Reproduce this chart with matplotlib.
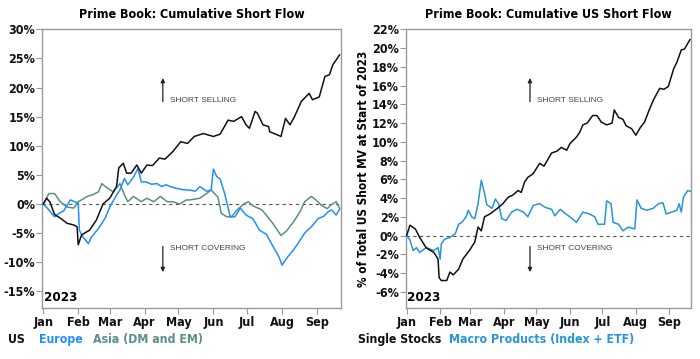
import numpy as np
import pandas as pd
import matplotlib
matplotlib.use("Agg")
import matplotlib.pyplot as plt
import matplotlib.dates as mdates

plt.rcParams["font.family"] = ["DejaVu Sans"]
plt.rcParams["font.stretch"] = "condensed"
plt.rcParams["font.weight"] = "bold"

# ------------------------------------------------------------
# data (day offset from Jan 1 2023, cumulative flow in %)
# ------------------------------------------------------------
us_days = [0, 3, 6, 10, 15, 21, 27, 30, 31, 34, 41, 47, 53, 59, 65, 67, 71, 74, 78, 83, 87, 92, 97, 103, 108,
           115, 122, 128, 134, 142, 151, 157, 164, 169, 176, 180, 183, 188, 190, 195, 200, 201, 205, 211, 215,
           219, 223, 229, 236, 239, 245, 250, 254, 257, 263]
us_vals = [0, 1.0, 0.3, -1.8, -2.4, -3.3, -3.6, -3.9, -7.0, -5.3, -4.5, -2.8, 0.0, 1.0, 3.0, 6.2, 7.0, 5.3, 5.3,
           6.7, 5.3, 6.7, 6.6, 7.9, 7.7, 9.0, 10.7, 10.4, 11.6, 12.1, 11.6, 12.0, 14.4, 14.2, 15.0, 13.6, 13.0,
           15.9, 15.6, 13.6, 13.3, 12.4, 12.1, 11.6, 14.7, 13.6, 15.0, 17.6, 19.0, 17.9, 18.4, 21.9, 22.2, 23.9, 25.6]

eu_days = [0, 4, 10, 14, 18, 24, 29, 31, 32, 35, 40, 43, 49, 55, 59, 64, 68, 72, 75, 80, 84, 87, 91, 96, 101,
           105, 109, 114, 118, 123, 127, 130, 135, 139, 145, 149, 151, 154, 157, 161, 166, 170, 175, 180, 186,
           192, 198, 204, 209, 212, 216, 222, 226, 232, 238, 244, 249, 253, 256, 260, 263]
eu_vals = [0, -0.8, -2.2, -1.6, -1.2, 0.7, 0.3, 0.2, -4.5, -5.6, -6.8, -5.6, -4.2, -2.4, -0.5, 1.2, 2.4, 4.4, 3.3,
           4.6, 6.1, 3.8, 3.8, 3.4, 3.5, 3.0, 3.3, 2.9, 2.7, 2.5, 2.4, 2.4, 2.2, 3.0, 2.2, 2.4, 6.0, 4.7, 4.3, 1.8,
           -2.2, -2.2, -0.7, -1.9, -2.5, -4.5, -5.2, -7.3, -9.0, -10.5, -9.3, -7.9, -6.8, -5.0, -3.9, -2.5, -2.1,
           -1.3, -1.0, -1.9, -0.9]

asia_days = [0, 5, 10, 15, 21, 27, 31, 34, 39, 44, 49, 52, 55, 62, 68, 72, 75, 80, 87, 92, 98, 104, 110, 115,
             121, 127, 130, 139, 145, 149, 152, 155, 158, 163, 167, 172, 178, 182, 186, 194, 198, 204, 211, 216,
             222, 228, 232, 238, 242, 247, 252, 255, 260, 263]
asia_vals = [0, 1.8, 1.8, 0.4, -0.5, -0.7, 0.4, 0.7, 1.3, 1.6, 2.1, 3.5, 3.0, 2.1, 3.5, 1.6, 0.4, 1.3, 0.4, 1.0,
             0.4, 1.3, 0.4, 0.4, 0.0, 0.7, 0.7, 1.0, 1.8, 2.4, 1.8, 1.2, -1.6, -2.2, -2.2, -1.0, 0.0, 0.4, -0.3,
             -1.0, -1.9, -3.4, -5.4, -4.6, -3.1, -1.3, 0.4, 1.3, 0.7, -0.2, -0.8, -0.2, 0.4, -0.7]

stocks_days = [0, 3, 8, 12, 18, 25, 29, 30, 32, 37, 40, 43, 48, 52, 58, 63, 66, 69, 72, 77, 85, 89, 94, 98, 103,
               106, 109, 112, 117, 123, 127, 131, 134, 139, 143, 148, 151, 157, 160, 163, 167, 172, 176, 180, 185,
               190, 192, 196, 200, 203, 208, 212, 216, 220, 224, 228, 234, 238, 242, 247, 250, 254, 257, 262]
stocks_vals = [0, 1.1, 0.7, -0.2, -1.3, -1.8, -2.5, -4.5, -4.8, -4.8, -3.9, -4.2, -3.6, -2.5, -1.6, -0.7, 0.9,
               0.5, 2.0, 2.3, 3.0, 3.4, 4.1, 4.3, 4.8, 4.6, 5.7, 6.2, 6.6, 7.7, 7.4, 8.2, 8.8, 9.0, 9.4, 9.1, 9.8,
               10.5, 11.0, 11.8, 12.0, 12.8, 12.8, 12.1, 11.8, 12.0, 13.4, 12.6, 12.4, 11.7, 11.4, 10.7, 11.5,
               12.1, 13.3, 14.4, 15.7, 15.6, 15.9, 17.8, 18.5, 19.8, 19.9, 20.9]

macro_days = [0, 3, 6, 9, 12, 18, 25, 29, 31, 32, 35, 40, 45, 48, 51, 55, 57, 60, 63, 66, 69, 72, 74, 79, 82, 85,
              88, 92, 97, 102, 108, 112, 117, 123, 128, 134, 137, 142, 146, 151, 157, 163, 169, 174, 177, 183,
              185, 189, 191, 196, 200, 205, 211, 213, 217, 222, 228, 233, 237, 240, 245, 250, 252, 254, 256, 260, 263]
macro_vals = [0, -0.5, -1.6, -1.3, -1.8, -1.3, -1.6, -1.3, -2.5, -0.9, -0.4, -0.2, 0.2, 1.2, 1.4, 2.0, 2.7, 2.0,
              1.8, 3.4, 5.9, 4.5, 3.3, 2.9, 3.9, 3.4, 1.8, 1.6, 2.5, 2.8, 2.5, 2.0, 3.2, 3.4, 3.0, 2.8, 2.1, 2.8,
              2.4, 2.0, 1.4, 2.5, 2.3, 2.0, 1.2, 1.2, 3.7, 3.4, 1.4, 1.2, 0.5, 0.9, 0.7, 3.8, 2.9, 2.7, 2.9, 3.4,
              3.5, 2.3, 2.5, 2.7, 3.4, 2.5, 4.1, 4.8, 4.7]

left_yticks = [-15, -10, -5, 0, 5, 10, 15, 20, 25, 30]
right_yticks = [-6, -4, -2, 0, 2, 4, 6, 8, 10, 12, 14, 16, 18, 20, 22]

start = pd.Timestamp("2023-01-01")


def to_dates(days):
    return start + pd.to_timedelta(np.array(days), unit="D")


BLACK = "#111111"
BLUE_L = "#1f8fff"
TEAL = "#5b8f88"
BLUE_R = "#2596d8"
FRAME = "#999999"

fig = plt.figure(figsize=(7.0, 3.59), dpi=100)
ax1 = fig.add_axes([0.0604, 0.1429, 0.4263, 0.7755])
ax2 = fig.add_axes([0.5796, 0.1429, 0.4071, 0.7755])


def style_axis(ax, yticks, ylim, xend):
    ax.set_ylim(*ylim)
    ax.set_xlim(start - pd.Timedelta(days=0.9), start + pd.Timedelta(days=xend))
    ax.set_yticks(yticks)
    ax.set_yticklabels([f"{t}%" for t in yticks])
    ax.xaxis.set_major_locator(mdates.MonthLocator())
    ax.xaxis.set_major_formatter(mdates.DateFormatter("%b"))
    ax.axhline(0, color="#555555", lw=0.8, ls=(0, (3, 3)), zorder=1)
    for sp in ax.spines.values():
        sp.set_color(FRAME)
        sp.set_linewidth(1.0)
    ax.tick_params(axis="both", colors=FRAME, length=4, width=0.8,
                   labelcolor="#111111", labelsize=9)
    ax.tick_params(axis="y", pad=1)
    ax.tick_params(axis="x", pad=2)
    ax.text(0.005, 0.015, "2023", transform=ax.transAxes, fontsize=9.5,
            fontweight="bold", ha="left", va="bottom")


# --- left chart ---
ax1.plot(to_dates(asia_days), asia_vals, color=TEAL, lw=1.1, zorder=2)
ax1.plot(to_dates(eu_days), eu_vals, color=BLUE_L, lw=1.1, zorder=3)
ax1.plot(to_dates(us_days), us_vals, color=BLACK, lw=1.1, zorder=4)
style_axis(ax1, left_yticks, (-17.8, 30), 264)
ax1.set_title("Prime Book: Cumulative Short Flow", fontsize=9, fontweight="bold", pad=8)

# --- right chart ---
ax2.plot(to_dates(macro_days), macro_vals, color=BLUE_R, lw=1.1, zorder=2)
ax2.plot(to_dates(stocks_days), stocks_vals, color=BLACK, lw=1.1, zorder=3)
style_axis(ax2, right_yticks, (-7.7, 22), 262.7)
ax2.set_title("Prime Book: Cumulative US Short Flow", fontsize=9, fontweight="bold", pad=8)
ax2.set_ylabel("% of Total US Short MV at Start of 2023", fontsize=8.5, fontweight="bold", labelpad=1)

# arrows + labels (axes-fraction placement)
for ax in (ax1, ax2):
    x_arrow = 0.404 if ax is ax1 else 0.436
    ax.annotate("", xy=(x_arrow, 0.835), xytext=(x_arrow, 0.73), xycoords="axes fraction",
                arrowprops=dict(arrowstyle="-|>", color="#222222", lw=0.9, mutation_scale=6))
    ax.annotate("", xy=(x_arrow, 0.118), xytext=(x_arrow, 0.23), xycoords="axes fraction",
                arrowprops=dict(arrowstyle="-|>", color="#222222", lw=0.9, mutation_scale=6))
    ax.text(x_arrow + 0.023, 0.745, "SHORT SELLING", transform=ax.transAxes, fontsize=6,
            family="Liberation Sans", fontstretch="normal", fontweight="normal",
            color="#444444", va="center")
    ax.text(x_arrow + 0.023, 0.214, "SHORT COVERING", transform=ax.transAxes, fontsize=6,
            family="Liberation Sans", fontstretch="normal", fontweight="normal",
            color="#444444", va="center")

# legend rows as coloured text
leg_y = 0.055
fig.text(8 / 700, leg_y, "US", color=BLACK, fontsize=8.8, fontweight="bold", va="center")
fig.text(39 / 700, leg_y, "Europe", color=BLUE_L, fontsize=8.8, fontweight="bold", va="center")
fig.text(93 / 700, leg_y, "Asia (DM and EM)", color=TEAL, fontsize=8.8, fontweight="bold", va="center")
fig.text(358 / 700, leg_y, "Single Stocks", color=BLACK, fontsize=8.8, fontweight="bold", va="center")
fig.text(449 / 700, leg_y, "Macro Products (Index + ETF)", color=BLUE_R, fontsize=8.8,
         fontweight="bold", va="center")

fig.savefig("out.png", dpi=100)
